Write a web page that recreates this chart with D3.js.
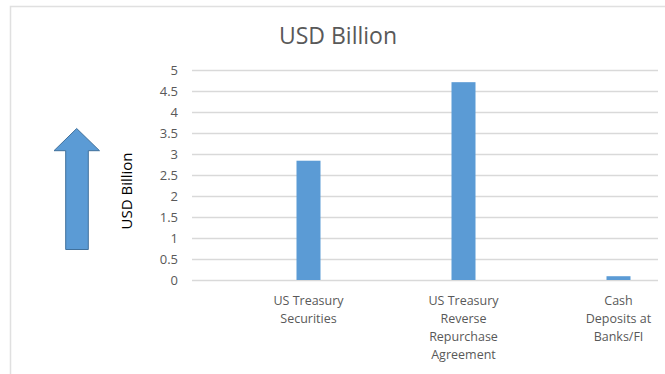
<!doctype html>
<html>
<head>
<style>
body { margin: 0; background: #fff; }
text { font-family: "Open Sans", sans-serif; }
</style>
<script src="https://d3js.org/d3.v7.min.js"></script>
</head>
<body>
	<svg height=374 width=665></svg>
	<script>
		var categories = [["US Treasury", "Securities"], ["US Treasury", "Reverse", "Repurchase", "Agreement"], ["Cash", "Deposits at", "Banks/FI"]];
		var values = [2.84, 4.71, 0.09];
		var yTicks = [0, 0.5, 1, 1.5, 2, 2.5, 3, 3.5, 4, 4.5, 5];
		var title = "USD Billion";
		var axisTitle = "USD Billion";

		var svg = d3.select("svg");
		var gridLeft = 192, gridRight = 658;

		// chart frame (only top and left edges visible)
		svg.append("rect").attr("x", 10.5).attr("y", 6.5).attr("width", 700).attr("height", 400)
			.attr("fill", "none").attr("stroke", "#e0e0e0").attr("stroke-width", 1.5);

		var y = d3.scaleLinear().domain([0, 5]).range([280, 70]);
		var x = d3.scaleBand().domain(d3.range(categories.length)).range([231, 696]);

		var yAxis = d3.axisLeft(y).tickValues(yTicks).tickSize(-(gridRight - gridLeft)).tickPadding(14)
			.tickFormat(function(d) { return d; });
		var ga = svg.append("g").attr("transform", "translate(" + gridLeft + ",0)").call(yAxis);
		ga.select(".domain").remove();
		ga.selectAll("line").attr("stroke", "#d9d9d9").attr("stroke-width", 1.3);
		ga.selectAll("text").attr("fill", "#595959").attr("font-size", "13px");

		svg.selectAll("rect.bar").data(values).enter().append("rect").attr("class", "bar")
			.attr("x", function(d, i) { return x(i) + x.bandwidth() / 2 - 12; })
			.attr("width", 24)
			.attr("y", function(d) { return y(d); })
			.attr("height", function(d) { return y(0) - y(d); })
			.attr("fill", "#5b9bd5");

		var labels = svg.selectAll("text.cat").data(categories).enter().append("text").attr("class", "cat")
			.attr("text-anchor", "middle").attr("fill", "#595959").attr("font-size", "12.5px")
			.attr("transform", function(d, i) { return "translate(" + (x(i) + x.bandwidth() / 2) + ",305)"; });
		labels.selectAll("tspan").data(function(d) { return d; }).enter().append("tspan")
			.attr("x", 0).attr("y", function(d, i) { return i * 18; }).text(function(d) { return d; });

		svg.append("text").attr("x", 338).attr("y", 44).attr("text-anchor", "middle")
			.attr("fill", "#595959").attr("font-size", "23px").text(title);

		svg.append("text").attr("transform", "translate(132,191) rotate(-90)").attr("text-anchor", "middle")
			.attr("fill", "#000").attr("font-size", "15px").text(axisTitle);

		// block arrow
		var arrow = [[76.7, 128.5], [99.5, 150.7], [88.3, 150.7], [88.3, 249.5], [65.7, 249.5], [65.7, 150.7], [54, 150.7]];
		svg.append("path").attr("d", d3.line()(arrow) + "Z")
			.attr("fill", "#5b9bd5").attr("stroke", "#41719c").attr("stroke-width", 1);
	</script>
</body>
</html>
